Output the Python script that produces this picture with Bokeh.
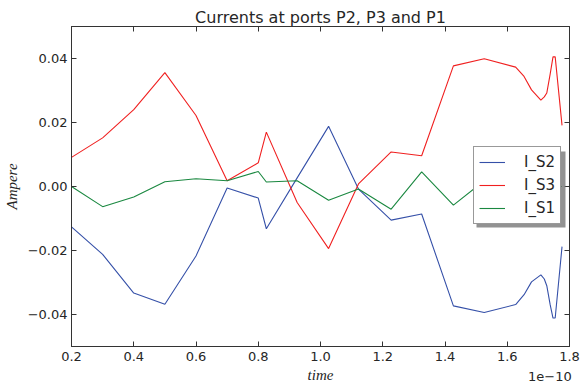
import math
from bokeh.plotting import figure
from bokeh.models import (Range1d, LinearAxis, FixedTicker, CustomJSTickFormatter,
                          Legend, LegendItem, BoxAnnotation)
from bokeh.embed import file_html
from bokeh.resources import INLINE

# ---- data (time in units of 1e-10 s) ----
time = [0.2, 0.3, 0.4, 0.5, 0.6, 0.7, 0.8, 0.826, 0.925, 1.026, 1.122, 1.227, 1.325,
        1.427, 1.526, 1.627, 1.654, 1.678, 1.708, 1.719, 1.727, 1.738, 1.747, 1.754, 1.776]
I_S2 = [-0.0126, -0.0212, -0.0333, -0.0368, -0.0217, -0.0005, -0.0036, -0.0132, 0.0027,
        0.0188, -0.0008, -0.0105, -0.0086, -0.0373, -0.0394, -0.0369, -0.0338, -0.0298,
        -0.0276, -0.0289, -0.0310, -0.0370, -0.0411, -0.0411, -0.0188]
I_S3 = [0.0091, 0.0152, 0.0240, 0.0356, 0.0222, 0.0018, 0.0074, 0.0170, -0.0050,
        -0.0194, 0.0008, 0.0108, 0.0096, 0.0377, 0.0399, 0.0373, 0.0344, 0.0302,
        0.0270, 0.0280, 0.0292, 0.0352, 0.0405, 0.0405, 0.0191]
I_S1 = [0.0, -0.0063, -0.0033, 0.0015, 0.0024, 0.0018, 0.0047, 0.0014, 0.0018,
        -0.0043, -0.0008, -0.0071, 0.0046, -0.0058, 0.0018, 0.0010, 0.0008, 0.0006,
        0.0004, 0.0004, 0.0003, 0.0002, 0.0001, 0.0001, 0.0]
x_ticks = [0.2, 0.4, 0.6, 0.8, 1.0, 1.2, 1.4, 1.6, 1.8]
y_ticks = [-0.04, -0.02, 0.0, 0.02, 0.04]
series_names = ["I_S2", "I_S3", "I_S1"]
colors = ["#3550a8", "#f02020", "#1a8840"]
x_label = "time"
y_label = "Ampere"
x_offset_text = "1e\u221210"

TEXT = "#262626"
SPINE = "#333333"
X_MIN, X_MAX, Y_MIN, Y_MAX = 0.2, 1.8, -0.05, 0.05
OFFSET_PAD = 111  # non-breaking spaces that push the centred "1e-10" to the right end

p = figure(width=582, height=387, output_backend="svg", toolbar_location=None,
           x_range=Range1d(X_MIN, X_MAX), y_range=Range1d(Y_MIN, Y_MAX),
           min_border_left=70, min_border_right=13, min_border_top=26, min_border_bottom=41)
main_x = p.below[0]
main_y = p.left[0]

p.title.text = "Currents at ports P2, P3 and P1"
p.title.align = "center"
p.title.text_font = "DejaVu Sans"
p.title.text_font_size = "16px"
p.title.text_font_style = "normal"
p.title.text_color = TEXT
p.title.standoff = 0
p.xgrid.visible = False
p.ygrid.visible = False
p.outline_line_color = SPINE
p.outline_line_width = 1
p.background_fill_color = "white"
p.border_fill_color = "white"

xfmt = CustomJSTickFormatter(code="return tick.toFixed(1);")
yfmt = CustomJSTickFormatter(code="return tick.toFixed(2).replace('-', '\u2212');")

for ax, ticks, fmt in ((main_x, x_ticks, xfmt), (main_y, y_ticks, yfmt)):
    ax.ticker = FixedTicker(ticks=ticks)
    ax.formatter = fmt
    ax.major_tick_in = 5
    ax.major_tick_out = 0
    ax.minor_tick_line_color = None
    ax.axis_line_color = SPINE
    ax.major_tick_line_color = SPINE
    ax.major_label_text_font = "DejaVu Sans"
    ax.major_label_text_font_size = "13px"
    ax.major_label_text_color = TEXT
    ax.axis_label_text_font = "Liberation Serif"
    ax.axis_label_text_font_style = "italic"
    ax.axis_label_text_font_size = "15px"
    ax.axis_label_text_color = TEXT
main_x.major_label_standoff = 5
main_x.axis_label = x_label
main_x.axis_label_standoff = 3
main_y.major_label_standoff = 4
main_y.axis_label = y_label
main_y.axis_label_standoff = 5

for loc, ticks in (("above", x_ticks), ("right", y_ticks)):
    ax = LinearAxis(ticker=FixedTicker(ticks=ticks), major_tick_in=5, major_tick_out=0,
                    minor_tick_line_color=None, axis_line_color=SPINE,
                    major_tick_line_color=SPINE, major_label_text_font_size="0px",
                    major_label_standoff=0)
    p.add_layout(ax, loc)

# offset text "1e-10": label-only axis, pulled back up into the axis-label row
off_ax = LinearAxis(ticker=FixedTicker(ticks=[]),
                    axis_line_color=None, major_tick_line_color=None,
                    minor_tick_line_color=None, major_tick_in=0, major_tick_out=0,
                    minor_tick_in=0, minor_tick_out=0, major_label_standoff=0,
                    major_label_text_font_size="0px",
                    axis_label="\u00a0" * OFFSET_PAD + x_offset_text,
                    axis_label_align="center", axis_label_standoff=-17,
                    axis_label_text_font="DejaVu Sans", axis_label_text_font_size="13px",
                    axis_label_text_font_style="normal", axis_label_text_color=TEXT)
p.add_layout(off_ax, "below")

renderers = []
for name, ys, c in zip(series_names, [I_S2, I_S3, I_S1], colors):
    r = p.line(time, ys, line_color=c, line_width=1.1)
    renderers.append(r)

# legend shadow
shadow = BoxAnnotation(left=405, right=494, top=195, bottom=119,
                       left_units="screen", right_units="screen",
                       top_units="screen", bottom_units="screen",
                       fill_color="#777777", fill_alpha=0.8, line_color=None)
p.add_layout(shadow)

legend = Legend(items=[LegendItem(label=n, renderers=[r]) for n, r in zip(series_names, renderers)],
                location=(402, 122), label_text_font="DejaVu Sans", label_text_font_size="15px",
                label_text_color=TEXT, glyph_width=26, glyph_height=20, label_standoff=19,
                spacing=3, padding=5, margin=0, border_line_color=SPINE, border_line_width=1,
                background_fill_color="white", background_fill_alpha=1.0)
p.add_layout(legend)

open("out.html", "w").write(file_html(p, INLINE))
